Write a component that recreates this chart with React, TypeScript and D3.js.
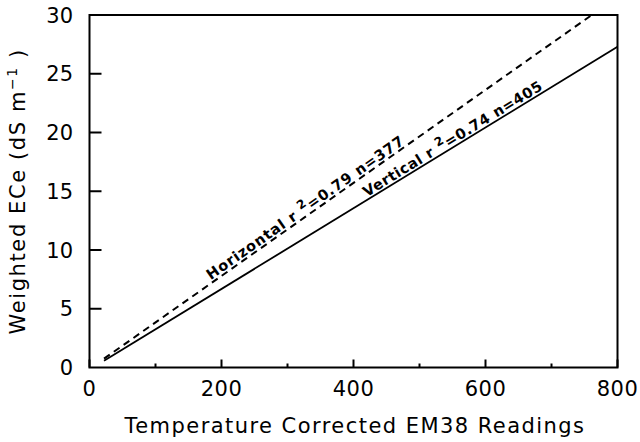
import React from "react";
import * as d3 from "d3";

const xTicks = [0, 200, 400, 600, 800];
const xMinorTicks = [100, 300, 500, 700];
const yTicks = [0, 5, 10, 15, 20, 25, 30];

// Regression lines (endpoints)
const horizontalX = [22, 761];
const horizontalY = [0.75, 30];
const verticalX = [22, 800];
const verticalY = [0.57, 27.3];

const horizontalLabel = { main: "Horizontal r ", sup: "2", rest: "=0.79 n=377", at: 186 };
const verticalLabel = { main: "Vertical r ", sup: "2", rest: "=0.74 n=405", at: 422 };

const W = 640;
const H = 442;
const M = { left: 89.5, right: 617.5, top: 15, bottom: 367.5 };
const FONT = "'DejaVu Sans', sans-serif";

export default function App() {
  const x = d3.scaleLinear().domain([0, 800]).range([M.left, M.right]);
  const y = d3.scaleLinear().domain([0, 30]).range([M.bottom, M.top]);
  const line = d3
    .line<[number, number]>()
    .x((d) => x(d[0]))
    .y((d) => y(d[1]));

  const hPts: [number, number][] = horizontalX.map((v, i) => [v, horizontalY[i]]);
  const vPts: [number, number][] = verticalX.map((v, i) => [v, verticalY[i]]);

  const labelTransform = (xs: number[], ys: number[], at: number) => {
    const t = (at - xs[0]) / (xs[1] - xs[0]);
    const yv = ys[0] + t * (ys[1] - ys[0]);
    const px = x(at);
    const py = y(yv);
    const ang =
      (Math.atan2(y(ys[1]) - y(ys[0]), x(xs[1]) - x(xs[0])) * 180) / Math.PI;
    return `translate(${px},${py}) rotate(${ang})`;
  };

  const renderLabel = (lab: typeof horizontalLabel, xs: number[], ys: number[], ls: number) => (
    <g transform={labelTransform(xs, ys, lab.at)}>
      <text
        x={0}
        y={-2.5}
        fontFamily={FONT}
        fontWeight="bold"
        fontSize={14.5}
        letterSpacing={ls}
        fill="#000"
      >
        {lab.main}
        <tspan dy={-6} fontSize={12}>
          {lab.sup}
        </tspan>
        <tspan dy={6}>{lab.rest}</tspan>
      </text>
    </g>
  );

  return (
    <svg
      width={W}
      height={H}
      style={{ position: "absolute", left: 0, top: 0, background: "#fff" }}
    >
      <rect x={0} y={0} width={W} height={H} fill="#fff" />
      {/* frame */}
      <rect
        x={M.left}
        y={M.top}
        width={M.right - M.left}
        height={M.bottom - M.top}
        fill="none"
        stroke="#000"
        strokeWidth={2}
      />
      {/* x ticks */}
      {xTicks.map((t) => (
        <g key={"xt" + t}>
          <line x1={x(t)} x2={x(t)} y1={M.bottom} y2={M.bottom - 8} stroke="#000" strokeWidth={2} />
          <text
            x={x(t)}
            y={396}
            textAnchor="middle"
            fontFamily={FONT}
            fontSize={21}
            letterSpacing={0.5}
            fill="#000"
          >
            {t}
          </text>
        </g>
      ))}
      {xMinorTicks.map((t) => (
        <line key={"xm" + t} x1={x(t)} x2={x(t)} y1={M.bottom} y2={M.bottom - 4} stroke="#000" strokeWidth={2} />
      ))}
      {/* y ticks */}
      {yTicks.map((t) => (
        <g key={"yt" + t}>
          {t > 0 && t < 30 && (
            <line x1={M.left} x2={M.left + 12} y1={y(t)} y2={y(t)} stroke="#000" strokeWidth={2} />
          )}
          <text
            x={73}
            y={y(t) + 7.5}
            textAnchor="end"
            fontFamily={FONT}
            fontSize={21}
            fill="#000"
          >
            {t}
          </text>
        </g>
      ))}
      {/* regression lines */}
      <path d={line(hPts) || ""} fill="none" stroke="#000" strokeWidth={2} strokeDasharray="7,5" />
      <path d={line(vPts) || ""} fill="none" stroke="#000" strokeWidth={1.8} />
      {renderLabel(horizontalLabel, horizontalX, horizontalY, 0.9)}
      {renderLabel(verticalLabel, verticalX, verticalY, 0.6)}
      {/* axis titles */}
      <text
        x={355}
        y={433}
        textAnchor="middle"
        fontFamily={FONT}
        fontSize={21}
        letterSpacing={1.45}
        fill="#000"
      >
        Temperature Corrected EM38 Readings
      </text>
      <text
        transform={`translate(25,${(M.top + M.bottom) / 2}) rotate(-90)`}
        textAnchor="middle"
        fontFamily={FONT}
        fontSize={21}
        letterSpacing={1.6}
        fill="#000"
      >
        Weighted ECe (dS m
        <tspan dy={-8} fontSize={14}>
          −1
        </tspan>
        <tspan dy={8}> )</tspan>
      </text>
    </svg>
  );
}
